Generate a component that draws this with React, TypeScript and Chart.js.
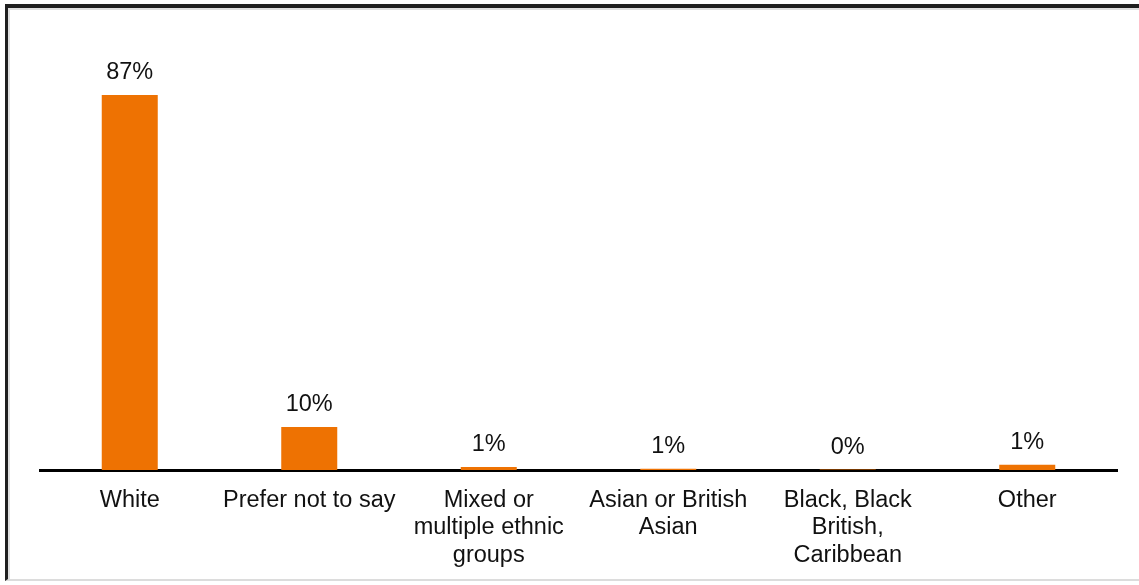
import React, { useEffect, useRef } from "react";
import { Chart, registerables } from "chart.js";

Chart.register(...registerables);

const categories: (string | string[])[] = [
  "White",
  "Prefer not to say",
  ["Mixed or", "multiple ethnic", "groups"],
  ["Asian or British", "Asian"],
  ["Black, Black", "British,", "Caribbean"],
  "Other",
];
const shares: number[] = [87, 10, 0.7, 0.3, 0.1, 1.2];
const valueLabels: string[] = ["87%", "10%", "1%", "1%", "0%", "1%"];

const FONT = "'Liberation Sans', Arial, sans-serif";
const ORANGE = "#ee7202";

const barLabelPlugin = {
  id: "barLabels",
  afterDatasetsDraw(chart: any) {
    const ctx = chart.ctx;
    const meta = chart.getDatasetMeta(0);
    ctx.save();
    ctx.font = `23.5px ${FONT}`;
    ctx.fillStyle = "#111";
    ctx.textAlign = "center";
    ctx.textBaseline = "alphabetic";
    meta.data.forEach((bar: any, i: number) => {
      ctx.fillText(valueLabels[i], bar.x, bar.y - 16);
    });
    ctx.restore();
  },
};

export default function App() {
  const canvasRef = useRef<HTMLCanvasElement | null>(null);

  useEffect(() => {
    if (!canvasRef.current) return;
    const chart = new Chart(canvasRef.current, {
      type: "bar",
      data: {
        labels: categories,
        datasets: [
          {
            data: shares,
            backgroundColor: ORANGE,
            borderWidth: 0,
            barPercentage: 0.312,
            categoryPercentage: 1,
          },
        ],
      },
      options: {
        animation: false,
        responsive: false,
        devicePixelRatio: 1,
        layout: { padding: { left: 40, right: 22, top: 39, bottom: 0 } },
        plugins: {
          legend: { display: false },
          tooltip: { enabled: false },
          title: { display: false },
        },
        scales: {
          x: {
            z: 1,
            grid: { display: false, drawTicks: false },
            border: { display: true, color: "#000", width: 3 },
            ticks: {
              color: "#111",
              padding: 17,
              maxRotation: 0,
              autoSkip: false,
              font: { family: FONT, size: 23.5, lineHeight: 1.16 },
            },
            afterFit: (scale: any) => {
              scale.height = 115;
            },
          },
          y: {
            display: false,
            min: 0,
            max: 100,
          },
        },
      },
      plugins: [barLabelPlugin],
    });
    return () => chart.destroy();
  }, []);

  return (
    <div
      style={{
        position: "fixed",
        left: 0,
        top: 0,
        width: 1139,
        height: 585,
        background: "#fff",
        overflow: "hidden",
      }}
    >
      <div
        style={{
          position: "absolute",
          left: 5,
          top: 4,
          width: 1160,
          height: 577,
          borderLeft: "3px solid #202020",
          borderTop: "4px solid #202020",
          borderBottom: "2px solid #dcdcdc",
          boxShadow: "inset 2px 2px 0 #e0e0e0",
          boxSizing: "border-box",
        }}
      />
      <canvas
        ref={canvasRef}
        width={1139}
        height={585}
        style={{ position: "absolute", left: 0, top: 0 }}
      />
    </div>
  );
}
